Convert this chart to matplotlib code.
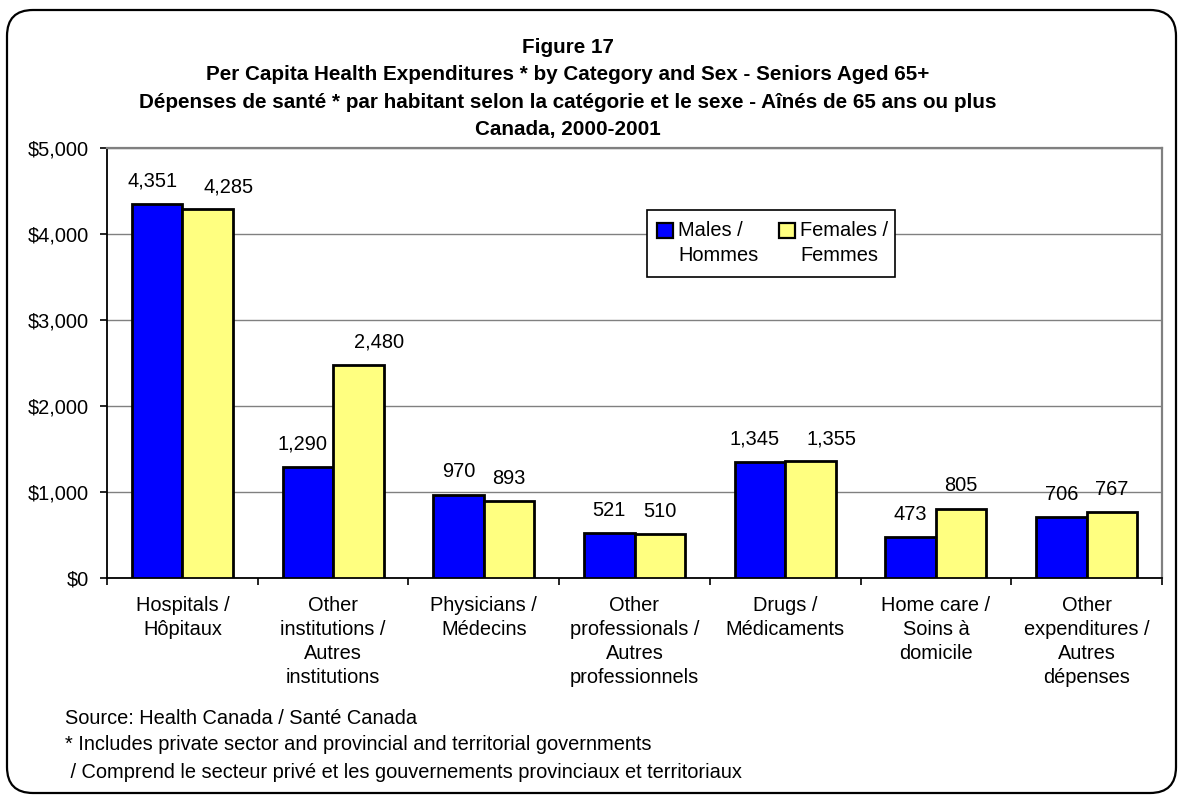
import matplotlib
matplotlib.use("Agg")
import matplotlib.pyplot as plt
import numpy as np
from matplotlib.patches import FancyBboxPatch, Rectangle
from matplotlib.transforms import IdentityTransform

categories = ["Hospitals /\nHôpitaux",
              "Other\ninstitutions /\nAutres\ninstitutions",
              "Physicians /\nMédecins",
              "Other\nprofessionals /\nAutres\nprofessionnels",
              "Drugs /\nMédicaments",
              "Home care /\nSoins à\ndomicile",
              "Other\nexpenditures /\nAutres\ndépenses"]
males = [4351, 1290, 970, 521, 1345, 473, 706]
females = [4285, 2480, 893, 510, 1355, 805, 767]
series_labels = ["Males /\nHommes", "Females /\nFemmes"]
series_colors = ["#0000FF", "#FFFF80"]
yticks = [0, 1000, 2000, 3000, 4000, 5000]
ytick_labels = ["$0", "$1,000", "$2,000", "$3,000", "$4,000", "$5,000"]
title_lines = ["Figure 17",
               "Per Capita Health Expenditures * by Category and Sex - Seniors Aged 65+",
               "Dépenses de santé * par habitant selon la catégorie et le sexe - Aînés de 65 ans ou plus",
               "Canada, 2000-2001"]
footnotes = ["Source: Health Canada / Santé Canada",
             "* Includes private sector and provincial and territorial governments",
             " / Comprend le secteur privé et les gouvernements provinciaux et territoriaux"]

plt.rcParams['font.family'] = ['Liberation Sans', 'DejaVu Sans']
FS = 14.4
TFS = 14.9

W, H = 1179, 795
fig = plt.figure(figsize=(W / 100, H / 100), dpi=100)


def fx(px):
    return px / W


def fy(py):
    return 1 - py / H


ax = fig.add_axes([fx(107), fy(578), (1162 - 107) / W, (578 - 148) / H])

x = np.arange(len(categories))
bw = 0.335
ax.bar(x - bw / 2, males, bw, color=series_colors[0], edgecolor="black", linewidth=2.0, zorder=3)
ax.bar(x + bw / 2, females, bw, color=series_colors[1], edgecolor="black", linewidth=2.0, zorder=3)

ax.set_xlim(-0.5, len(categories) - 0.5)
ax.set_ylim(0, 5000)
ax.set_yticks(yticks)
ax.set_yticklabels(ytick_labels, fontsize=FS)
ax.set_xticks(x)
ax.set_xticklabels(categories, fontsize=FS, linespacing=1.33, va="top")
ax.set_xticks(np.arange(-0.5, len(categories), 1.0), minor=True)
ax.tick_params(axis="x", which="major", length=0, pad=13)
ax.tick_params(axis="x", which="minor", length=5, width=1.2, direction="out", color="black")
ax.tick_params(axis="y", length=5, width=1.2, direction="out", pad=8, color="black")
ax.grid(axis="y", color="#808080", linewidth=1.0, zorder=0)
for s in ["top", "right"]:
    ax.spines[s].set_color("#808080")
    ax.spines[s].set_linewidth(1.6)
for s in ["left", "bottom"]:
    ax.spines[s].set_color("black")
    ax.spines[s].set_linewidth(1.3)

# value labels (shifted apart when both are wide, as in the original)
for i in range(len(categories)):
    m, f = males[i], females[i]
    wide = m >= 1000 and f >= 1000
    dxm = -5 if wide else 0
    dxf = 21 if wide else 0
    for xv, val, dx in [(x[i] - bw / 2, m, dxm), (x[i] + bw / 2, f, dxf)]:
        ax.annotate(f"{val:,}", xy=(xv, val), xytext=(dx * 0.72, 12.5),
                    textcoords="offset points", ha="center", va="baseline",
                    fontsize=FS)

# legend box drawn manually to match the original layout
fig.patches.append(Rectangle((fx(647), fy(277)), fx(895) - fx(647), fy(210) - fy(277),
                             transform=fig.transFigure, facecolor="white",
                             edgecolor="black", linewidth=1.2, zorder=5))
for lx, col, lab in [(657, series_colors[0], series_labels[0]),
                     (779, series_colors[1], series_labels[1])]:
    fig.patches.append(Rectangle((fx(lx), fy(238)), fx(16), fy(223) - fy(238),
                                 transform=fig.transFigure, facecolor=col,
                                 edgecolor="black", linewidth=1.6, zorder=6))
    fig.text(fx(lx + 21), fy(221), lab, ha="left", va="top", fontsize=FS,
             linespacing=1.38, zorder=7, transform=fig.transFigure)

# title
cx = fx(568)
for yy, t in zip([45.5, 73, 100.5, 128], title_lines):
    fig.text(cx, fy(yy), t, ha="center", va="center_baseline", fontsize=TFS, fontweight="bold")

# footnotes
for yy, t in zip([717, 743, 770], footnotes):
    fig.text(fx(65), fy(yy), t, ha="left", va="center_baseline", fontsize=FS)

# rounded border
border = FancyBboxPatch((7, H - 793), 1176 - 7, 793 - 10,
                        boxstyle="round,pad=0,rounding_size=26",
                        transform=IdentityTransform(), facecolor="none",
                        edgecolor="black", linewidth=1.6)
fig.patches.append(border)

fig.savefig("out.png", dpi=100)
